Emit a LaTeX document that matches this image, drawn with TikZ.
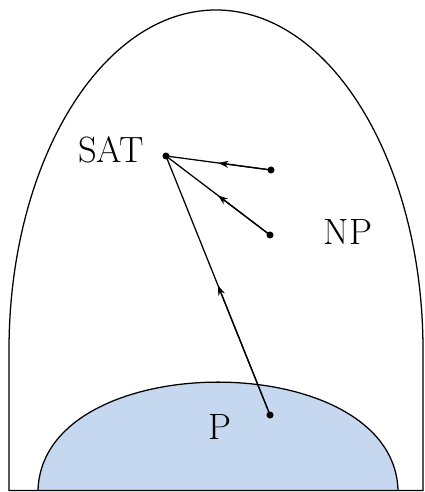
\documentclass[tikz,border=0pt]{standalone}
\usetikzlibrary{arrows.meta,calc}
\definecolor{pblue}{RGB}{197,216,240}
\begin{document}
\begin{tikzpicture}[x=0.025cm, y=0.025cm, >={Stealth[length=7pt,width=5pt]},
    lbl/.style={font=\fontsize{26}{30}\selectfont, inner sep=0pt},
    dot/.style={circle, fill=black, inner sep=0pt, minimum size=5pt},
    edge/.style={line width=0.9pt}]
  \useasboundingbox (0,0) rectangle (424,492);
  %% P region
  \fill[pblue] (38,1.5) .. controls (42,146) and (394,146) .. (398,1.5) -- cycle;
  \draw[edge] (38,1.5) .. controls (42,146) and (394,146) .. (398,1.5);
  %% NP region
  \draw[edge] (9,1.5) -- (9,142)
    arc[start angle=180, end angle=0, x radius=207, y radius=340]
    -- (423,1.5) -- cycle;
  %% Labels
  \node[lbl] (sat) at (111,342) {SAT};
  \node[lbl] (np)  at (348,260) {NP};
  \node[lbl] (p)   at (220,65)  {P};
  %% Reductions
  \node[dot] (hub) at (166,336) {};
  \node[dot] (ra)  at (271,322) {};
  \node[dot] (rb)  at (270,257) {};
  \node[dot] (rc)  at (270,77)  {};
  \foreach \e in {ra,rb,rc}{
    \draw[edge] (hub.center) -- (\e.center);
    \draw[edge,->] (\e.center) -- ($(\e.center)!0.5!(hub.center)$);
  }
\end{tikzpicture}
\end{document}
